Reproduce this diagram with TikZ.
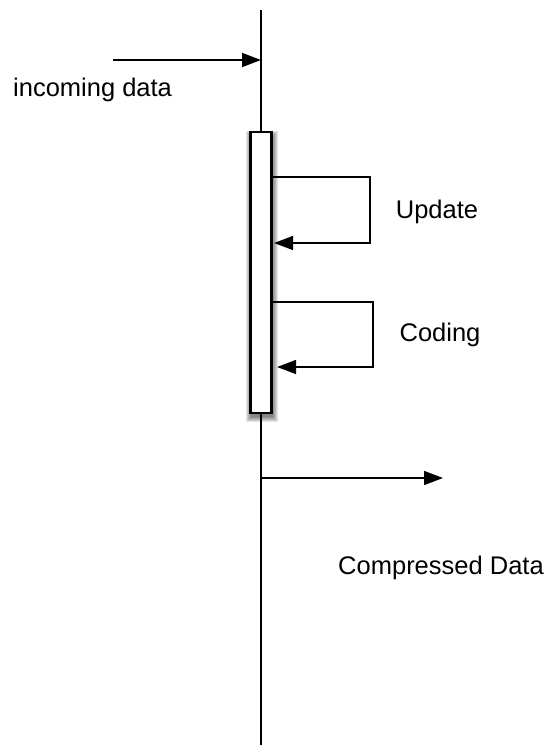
\documentclass[tikz,border=0pt]{standalone}
\usepackage{fontspec}
\setmainfont{Liberation Sans}
\usetikzlibrary{arrows.meta,positioning}
\begin{document}
\begin{tikzpicture}[x=1pt,y=-1pt,
  line/.style={line width=1.6pt,draw=black},
  arr/.style={line width=1.6pt,-{Triangle[length=19pt,width=14pt]}},
  lbl/.style={font=\fontsize{25.5}{30}\selectfont,inner sep=0pt},
  actbox/.style={draw=black,line width=2.2pt,fill=white,minimum width=21pt,minimum height=281pt,inner sep=0pt}]
  \useasboundingbox (0,0) rectangle (550,745);
  % lifeline
  \coordinate (top) at (261,10);
  \coordinate (bot) at (261,745);
  \draw[line] (top) -- (bot);
  % soft shadow under the activation bar
  \foreach \s in {5,4,3,2,1,0} {
    \fill[black,opacity=0.1] (250.5-\s,136-\s) rectangle (272.5+\s,417+\s);
  }
  % activation bar
  \node[actbox] (act) at (261,272.5) {};
  % incoming message
  \coordinate (inS) at (113,60);
  \coordinate (inE) at (261,60);
  \draw[arr] (inS) -- (inE);
  \node[lbl,anchor=west] (inL) at (13,90) {incoming data};
  % self call: update
  \coordinate (u1) at (act.east |- 0,177);
  \coordinate (u2) at (370,177);
  \coordinate (u3) at (370,243);
  \coordinate (u4) at (act.east |- 0,243);
  \draw[arr] (u1) -- (u2) -- (u3) -- ([xshift=1.5pt]u4);
  \node[lbl] (uL) at (437,212) {Update};
  % self call: coding
  \coordinate (c1) at (act.east |- 0,302);
  \coordinate (c2) at (373,302);
  \coordinate (c3) at (373,367);
  \coordinate (c4) at (act.east |- 0,367);
  \draw[arr] (c1) -- (c2) -- (c3) -- ([xshift=4.5pt]c4);
  \node[lbl] (cL) at (440,335) {Coding};
  % outgoing message
  \coordinate (oS) at (261,478);
  \coordinate (oE) at (443,478);
  \draw[arr] (oS) -- (oE);
  \node[lbl] (oL) at (441,568) {Compressed Data};
\end{tikzpicture}
\end{document}
